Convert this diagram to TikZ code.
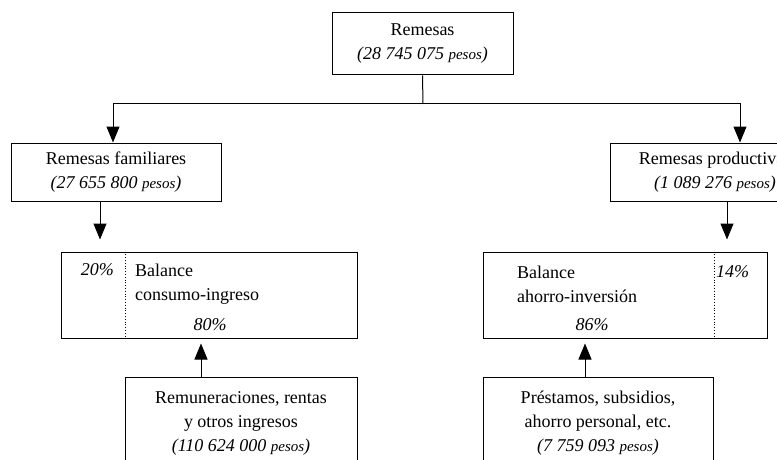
\documentclass[tikz,border=0pt]{standalone}
\usepackage{fontspec}
\setmainfont{Liberation Serif}
\usetikzlibrary{arrows.meta}

\tikzset{
  caja/.style={draw, line width=1pt, inner sep=0pt, align=center},
  flecha/.style={line width=1pt, -{Triangle[width=13pt,length=16pt]}},
  linea/.style={line width=1pt},
  divisor/.style={dotted, line width=0.8pt},
}
\newcommand{\monto}[1]{\textit{(#1 {\fontsize{15}{24}\selectfont pesos})}}

\begin{document}
\begin{tikzpicture}[x=1pt, y=-1pt, font=\fontsize{18}{24}\selectfont]
    \useasboundingbox (0, 0) rectangle (777, 460);
    \clip (0, 0) rectangle (777, 460);

    % remesas totales
    \node[caja, minimum width=181pt, minimum height=62pt] (remesas) at (422.5, 44) {Remesas\\\monto{28 745 075}};
    \coordinate (reparto) at (423, 104);
    \draw[linea] (remesas.south) -- (reparto);

    % tipos de remesa
    \node[caja, minimum width=210pt, minimum height=58pt] (familiares) at (116, 172) {Remesas familiares\\\monto{27 655 800}};
    \node[caja, minimum width=210pt, minimum height=58pt] (productivas) at (715, 172) {Remesas productivas\\\monto{1 089 276}};
    \draw[flecha] (reparto) -| ([xshift=-3pt]familiares.north);
    \draw[flecha] (reparto) -| ([xshift=25pt]productivas.north);

    % balances
    \node[caja, minimum width=296pt, minimum height=86pt] (consumo) at (209, 295) {};
    \node[caja, minimum width=284pt, minimum height=86pt] (ahorro) at (625, 295) {};
    \draw[divisor] ([xshift=65pt]consumo.north west) -- ([xshift=65pt]consumo.south west);
    \draw[divisor] ([xshift=-53pt]ahorro.north east) -- ([xshift=-53pt]ahorro.south east);

    \node[anchor=base east, inner sep=0pt] (p20) at (114, 275) {\textit{20\%}};
    \node[anchor=base west, inner sep=0pt, align=left] (bal1) at (135, 300) {Balance\\consumo-ingreso};
    \node[anchor=base, inner sep=0pt] (p80) at (210, 330) {\textit{80\%}};

    \node[anchor=base west, inner sep=0pt, align=left] (bal2) at (517, 302) {Balance\\ahorro-inversión};
    \node[anchor=base west, inner sep=0pt] (p14) at (716, 277) {\textit{14\%}};
    \node[anchor=base, inner sep=0pt] (p86) at (592, 330) {\textit{86\%}};

    \draw[flecha, shorten >=12pt] ([xshift=-16pt]familiares.south) -- ([xshift=-16pt]familiares.south |- consumo.north);
    \draw[flecha, shorten >=12pt] ([xshift=12pt]productivas.south) -- ([xshift=12pt]productivas.south |- ahorro.north);

    % fuentes de ingreso
    \node[caja, minimum width=232pt, minimum height=93pt] (ingresos) at (241, 423.5) {Remuneraciones, rentas\\y otros ingresos\\\monto{110 624 000}};
    \node[caja, minimum width=230pt, minimum height=93pt] (prestamos) at (598, 423.5) {Préstamos, subsidios,\\ahorro personal, etc.\\\monto{7 759 093}};
    \draw[flecha, shorten >=5pt] ([xshift=-40pt]ingresos.north) -- ([xshift=-40pt]ingresos.north |- consumo.south);
    \draw[flecha, shorten >=5pt] ([xshift=-13pt]prestamos.north) -- ([xshift=-13pt]prestamos.north |- ahorro.south);
\end{tikzpicture}
\end{document}
